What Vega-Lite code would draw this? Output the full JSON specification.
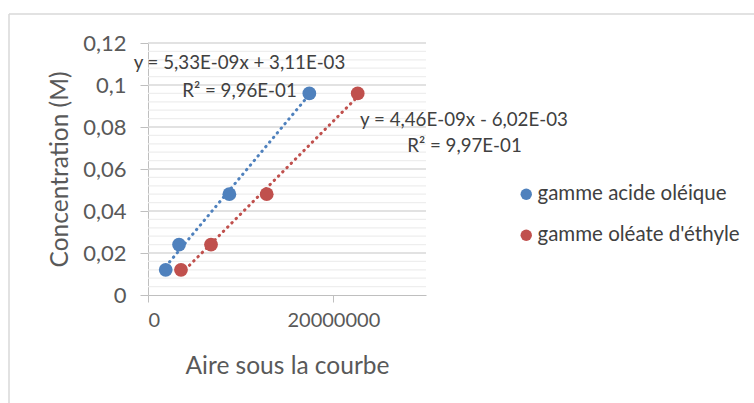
{
  "$schema": "https://vega.github.io/schema/vega-lite/v6.json",
  "autosize": {"type": "none"},
  "width": 278,
  "height": 252,
  "padding": {"left": 148, "top": 43, "right": 328, "bottom": 108},
  "background": "white",
  "config": {
    "font": "Lato",
    "view": {"stroke": null},
    "axis": {"labelColor": "#595959", "titleColor": "#595959", "titleFontWeight": "normal", "domainColor": "#bfbfbf", "tickColor": "#bfbfbf"}
  },
  "datasets": {
    "points": [
      {"serie": "gamme acide oléique", "aire": 1910000, "conc": 0.012},
      {"serie": "gamme acide oléique", "aire": 3350000, "conc": 0.024},
      {"serie": "gamme acide oléique", "aire": 8780000, "conc": 0.048},
      {"serie": "gamme acide oléique", "aire": 17410000, "conc": 0.096},
      {"serie": "gamme oléate d'éthyle", "aire": 3560000, "conc": 0.012},
      {"serie": "gamme oléate d'éthyle", "aire": 6800000, "conc": 0.024},
      {"serie": "gamme oléate d'éthyle", "aire": 12810000, "conc": 0.048},
      {"serie": "gamme oléate d'éthyle", "aire": 22630000, "conc": 0.096}
    ],
    "labels": [
      {"label": "y = 5,33E-09x + 3,11E-03", "aire": 9870000, "conc": 0.1105},
      {"label": "R² = 9,96E-01", "aire": 9870000, "conc": 0.0971},
      {"label": "y = 4,46E-09x - 6,02E-03", "aire": 34100000, "conc": 0.0833},
      {"label": "R² = 9,97E-01", "aire": 34150000, "conc": 0.071}
    ],
    "grid": [
      {"g": 0.004, "major": false}, {"g": 0.008, "major": false}, {"g": 0.012, "major": false}, {"g": 0.016, "major": false}, {"g": 0.02, "major": true},
      {"g": 0.024, "major": false}, {"g": 0.028, "major": false}, {"g": 0.032, "major": false}, {"g": 0.036, "major": false}, {"g": 0.04, "major": true},
      {"g": 0.044, "major": false}, {"g": 0.048, "major": false}, {"g": 0.052, "major": false}, {"g": 0.056, "major": false}, {"g": 0.06, "major": true},
      {"g": 0.064, "major": false}, {"g": 0.068, "major": false}, {"g": 0.072, "major": false}, {"g": 0.076, "major": false}, {"g": 0.08, "major": true},
      {"g": 0.084, "major": false}, {"g": 0.088, "major": false}, {"g": 0.092, "major": false}, {"g": 0.096, "major": false}, {"g": 0.1, "major": true},
      {"g": 0.104, "major": false}, {"g": 0.108, "major": false}, {"g": 0.112, "major": false}, {"g": 0.116, "major": false}, {"g": 0.12, "major": true}
    ]
  },
  "layer": [
    {
      "data": {"values": [{}]},
      "mark": {"type": "rule", "color": "#d9d9d9", "strokeWidth": 1.5, "clip": false},
      "encoding": {
        "x": {"datum": -15000000, "type": "quantitative"},
        "y": {"datum": 0.1338, "type": "quantitative"},
        "y2": {"datum": -0.052}
      }
    },
    {
      "data": {"values": [{}]},
      "mark": {"type": "rule", "color": "#d9d9d9", "strokeWidth": 1.5, "clip": false},
      "encoding": {
        "x": {"datum": -15000000, "type": "quantitative"},
        "x2": {"datum": 66000000},
        "y": {"datum": 0.1338, "type": "quantitative"}
      }
    },
    {
      "data": {"name": "grid"},
      "mark": {"type": "rule", "strokeWidth": 1.3},
      "encoding": {
        "y": {"field": "g", "type": "quantitative"},
        "color": {"condition": {"test": "datum.major", "value": "#d9d9d9"}, "value": "#eeeeee"}
      }
    },
    {
      "data": {"name": "points"},
      "transform": [{"regression": "conc", "on": "aire", "groupby": ["serie"]}],
      "mark": {"type": "line", "strokeDash": [0.5, 5.5], "strokeCap": "round", "strokeWidth": 3},
      "encoding": {
        "x": {"field": "aire", "type": "quantitative"},
        "y": {"field": "conc", "type": "quantitative"},
        "color": {"field": "serie", "type": "nominal"}
      }
    },
    {
      "data": {"name": "points"},
      "mark": {"type": "circle", "size": 190, "opacity": 1},
      "encoding": {
        "x": {
          "field": "aire", "type": "quantitative",
          "scale": {"domain": [0, 30000000], "nice": false},
          "title": "Aire sous la courbe",
          "axis": {
            "values": [0, 20000000], "tickCount": 10, "format": "d", "grid": false,
            "tickSize": 7, "labelPadding": 8, "labelFontSize": 20,
            "titleFontSize": 24.5, "titlePadding": 24
          }
        },
        "y": {
          "field": "conc", "type": "quantitative",
          "scale": {"domain": [0, 0.12], "nice": false},
          "title": "Concentration (M)",
          "axis": {
            "values": [0, 0.02, 0.04, 0.06, 0.08, 0.1, 0.12],
            "tickCount": 100,
            "labelOverlap": false,
            "labelExpr": "replace(format(datum.value, '~g'), '.', ',')",
            "grid": false,
            "tickSize": 8, "labelPadding": 14, "labelFontSize": 22,
            "titleFontSize": 24.5, "titleX": -88, "titleY": 126, "titleBaseline": "middle", "titleAlign": "center"
          }
        },
        "color": {
          "field": "serie", "type": "nominal",
          "scale": {"domain": ["gamme acide oléique", "gamme oléate d'éthyle"], "range": ["#4F81BD", "#C0504D"]},
          "legend": {
            "title": null, "orient": "none", "legendX": 368, "legendY": 141,
            "symbolType": "circle", "symbolSize": 130, "labelFontSize": 20.5,
            "labelColor": "#404040", "rowPadding": 20, "labelOffset": 1, "labelLimit": 400,
            "symbolStrokeWidth": 0, "symbolOpacity": 1
          }
        }
      }
    },
    {
      "data": {"name": "labels"},
      "mark": {"type": "text", "align": "center", "baseline": "middle", "fontSize": 18.7, "color": "#404040", "clip": false},
      "encoding": {
        "x": {"field": "aire", "type": "quantitative"},
        "y": {"field": "conc", "type": "quantitative"},
        "text": {"field": "label"}
      }
    }
  ]
}
